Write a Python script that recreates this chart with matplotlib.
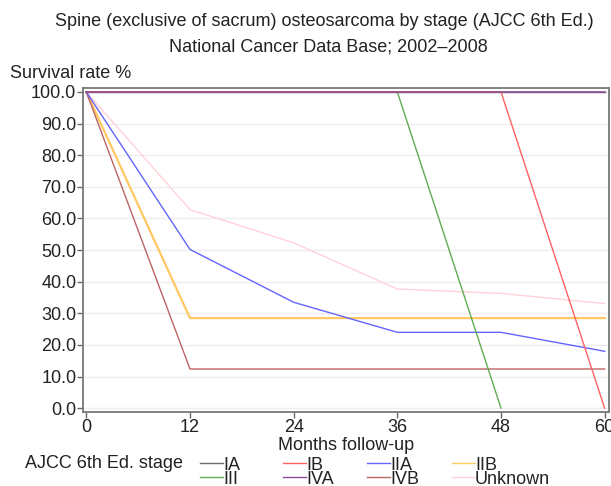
import matplotlib
matplotlib.use("Agg")
import matplotlib.pyplot as plt
from matplotlib.lines import Line2D

plt.rcParams['font.family'] = ['Liberation Sans', 'DejaVu Sans']

months = [0, 12, 24, 36, 48, 60]
stages = ["IA", "IB", "IIA", "IIB", "III", "IVA", "IVB", "Unknown"]
ia = [100, 100, 100, 100, 100, 100]
ib = [100, 100, 100, 100, 100, 0]
iia = [100, 50.2, 33.5, 24.0, 24.0, 18.0]
iib = [100, 28.5, 28.5, 28.5, 28.5, 28.5]
iii_m = [0, 12, 24, 36, 48]
iii = [100, 100, 100, 100, 0]
iva = [100, 100, 100, 100, 100, 100]
ivb = [100, 12.4, 12.4, 12.4, 12.4, 12.4]
unknown = [100, 62.8, 52.3, 37.7, 36.3, 33.1]
yticks = [0, 10, 20, 30, 40, 50, 60, 70, 80, 90, 100]
xticks = [0, 12, 24, 36, 48, 60]

colors = {"IA": "#6e6e6e", "IB": "#ff6060", "IIA": "#6464ff", "IIB": "#ffc862",
          "III": "#62aa55", "IVA": "#8a4a98", "IVB": "#bb6464", "Unknown": "#ffd2d8"}

fig = plt.figure(figsize=(6.11, 4.86), dpi=100)
ax = fig.add_axes([83.3/611, 1-411.7/486, (609-83.3)/611, (411.7-88.5)/486])

series = [("Unknown", months, unknown, 1.0), ("IIB", months, iib, 1.6),
          ("IVB", months, ivb, 1.0), ("IIA", months, iia, 1.0),
          ("III", iii_m, iii, 1.0), ("IA", months, ia, 1.0),
          ("IB", months, ib, 1.0), ("IVA", months, iva, 1.1)]
for name, xs, ys, lw in series:
    ax.plot(xs, ys, color=colors[name], lw=lw, zorder=3)

ax.set_xlim(-0.35, 60.5)
ax.set_ylim(-1.1, 101.1)
ax.set_yticks(yticks)
ax.set_yticklabels([f"{v:.1f}" for v in yticks])
ax.set_xticks(xticks)
ax.set_xticklabels([str(v) for v in xticks])
ax.grid(axis='y', color='#eeeeee', lw=1.0, zorder=0)
ax.tick_params(axis='both', labelsize=13, color='#666666', length=4, width=1, pad=1,
               labelcolor='#222222')
for s in ax.spines.values():
    s.set_color('#777777')
    s.set_linewidth(1.3)

fig.text(0.530, 1-22/486, "Spine (exclusive of sacrum) osteosarcoma by stage (AJCC 6th Ed.)",
         ha='center', va='center', fontsize=13, color='#222222')
fig.text(0.537, 1-47/486, "National Cancer Data Base; 2002\u20132008",
         ha='center', va='center', fontsize=13, color='#222222')
fig.text(10/611, 1-74/486, "Survival rate %", ha='left', va='center', fontsize=13, color='#222222')
fig.text(346/611, 1-445/486, "Months follow-up", ha='center', va='center', fontsize=13, color='#222222')
fig.text(25/611, 1-463/486, "AJCC 6th Ed. stage", ha='left', va='center', fontsize=13, color='#222222')

col_x = [200, 283, 367, 452]
row_y = [462.5, 476.5]
for i, name in enumerate(stages):
    r, c = divmod(i, 4)
    x0 = col_x[c]
    y = row_y[r]
    fig.add_artist(Line2D([x0/611, (x0+23)/611], [1-y/486, 1-y/486],
                          color=colors[name], lw=1.0, transform=fig.transFigure))
    fig.text((x0+23)/611, 1-(y+3)/486, name, ha='left', va='center', fontsize=13, color='#222222')

fig.savefig("out.png", dpi=100)
